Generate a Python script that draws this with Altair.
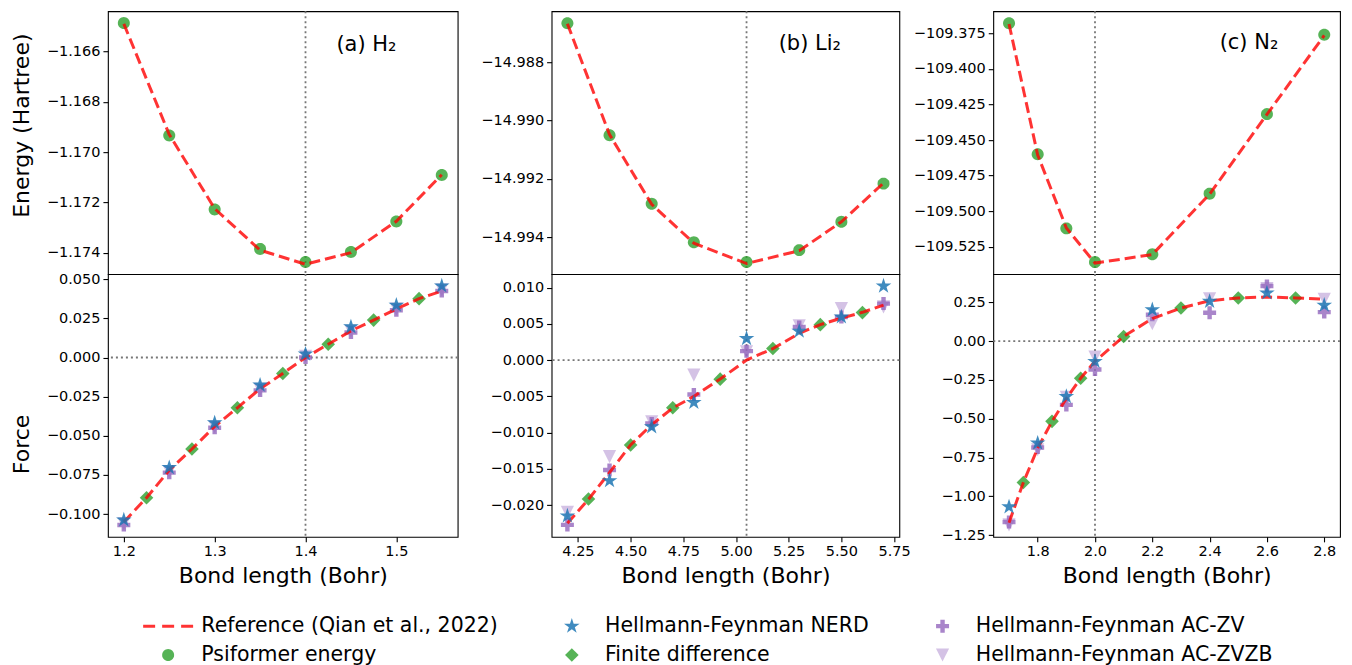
import altair as alt
import pandas as pd
import numpy as np

FONT = "DejaVu Sans"

# ---------------- data ----------------
# legend order (filled column by column, two rows)
SERIES = ["Reference (Qian et al., 2022)", "Psiformer energy", "Hellmann-Feynman NERD",
          "Finite difference", "Hellmann-Feynman AC-ZV", "Hellmann-Feynman AC-ZVZB"]

# (a) H2
a_x = [1.2, 1.25, 1.3, 1.35, 1.4, 1.45, 1.5, 1.55]
a_E_psi = [-1.16487, -1.16934, -1.17228, -1.17385, -1.17437, -1.17397, -1.17276, -1.17091]
a_E_ref = [-1.16490, -1.16930, -1.17225, -1.17390, -1.17446, -1.17400, -1.17275, -1.17090]
a_F_nerd = [-0.1037, -0.0703, -0.0417, -0.0176, 0.0022, 0.0196, 0.0334, 0.0457]
a_F_zv = [-0.1069, -0.0735, -0.0448, -0.0210, 0.0000, 0.0160, 0.0302, 0.0425]
a_F_zvzb = [-0.1060, -0.0728, -0.0442, -0.0203, 0.0008, 0.0168, 0.0310, 0.0432]
a_x_fd = [1.225, 1.275, 1.325, 1.375, 1.425, 1.475, 1.525]
a_F_fd = [-0.0895, -0.0584, -0.0321, -0.0102, 0.0085, 0.0239, 0.0376]
a_x_ref = [1.2, 1.225, 1.25, 1.275, 1.3, 1.325, 1.35, 1.375, 1.4, 1.425, 1.45, 1.475, 1.5, 1.525, 1.55]
a_F_ref = [-0.1050, -0.0895, -0.0720, -0.0584, -0.0440, -0.0321, -0.0200, -0.0102, 0.0000,
           0.0085, 0.0170, 0.0239, 0.0310, 0.0376, 0.0425]

# (b) Li2
b_x = [4.2, 4.4, 4.6, 4.8, 5.05, 5.3, 5.5, 5.7]
b_E_psi = [-14.98666, -14.99050, -14.99285, -14.99417, -14.99485, -14.99444, -14.99347, -14.99216]
b_E_ref = [-14.98668, -14.99048, -14.99287, -14.99420, -14.99490, -14.99446, -14.99347, -14.99214]
b_F_nerd = [-0.02149, -0.01663, -0.00919, -0.00584, 0.00298, 0.00399, 0.00596, 0.01023]
b_F_zv = [-0.02273, -0.01515, -0.00873, -0.00474, 0.00124, 0.00459, 0.00596, 0.00780]
b_F_zvzb = [-0.02100, -0.01332, -0.00850, -0.00207, 0.00114, 0.00472, 0.00710, 0.00734]
b_x_fd = [4.3, 4.5, 4.7, 4.925, 5.175, 5.4, 5.6]
b_F_fd = [-0.01915, -0.01171, -0.00657, -0.00262, 0.00160, 0.00490, 0.00656]
b_x_ref = [4.2, 4.3, 4.4, 4.5, 4.6, 4.7, 4.8, 4.925, 5.05, 5.175, 5.3, 5.4, 5.5, 5.6, 5.7]
b_F_ref = [-0.0225, -0.0192, -0.0155, -0.0117, -0.0089, -0.0066, -0.0050, -0.0026, 0.0000,
           0.0016, 0.0037, 0.0049, 0.0058, 0.0066, 0.0076]

# (c) N2
c_x = [1.7, 1.8, 1.9, 2.0, 2.2, 2.4, 2.6, 2.8]
c_E_psi = [-109.3679, -109.4600, -109.5121, -109.5358, -109.5303, -109.4877, -109.4318, -109.3760]
c_E_ref = [-109.3685, -109.4605, -109.5118, -109.5365, -109.5305, -109.4880, -109.4320, -109.3765]
c_F_nerd = [-1.068, -0.657, -0.357, -0.131, 0.202, 0.256, 0.310, 0.231]
c_F_zv = [-1.165, -0.685, -0.411, -0.183, 0.170, 0.183, 0.355, 0.187]
c_F_zvzb = [-1.184, -0.700, -0.362, -0.103, 0.112, 0.273, 0.338, 0.269]
c_x_fd = [1.75, 1.85, 1.95, 2.1, 2.3, 2.5, 2.7]
c_F_fd = [-0.911, -0.517, -0.239, 0.030, 0.213, 0.278, 0.278]
c_x_ref = [1.7, 1.75, 1.8, 1.85, 1.9, 1.95, 2.0, 2.1, 2.2, 2.3, 2.4, 2.5, 2.6, 2.7, 2.8]
c_F_ref = [-1.170, -0.911, -0.690, -0.517, -0.370, -0.239, -0.130, 0.030, 0.145, 0.213,
           0.260, 0.278, 0.284, 0.278, 0.270]

labels = ["(a) H\u2082", "(b) Li\u2082", "(c) N\u2082"]
eq_x = [1.4, 5.05, 2.0]

# ---------------- styles ----------------
COLOR_OF = {
    "Reference (Qian et al., 2022)": "rgba(255,0,0,0.8)",
    "Psiformer energy": "rgba(44,160,44,0.8)",
    "Hellmann-Feynman NERD": "rgba(31,119,180,0.85)",
    "Finite difference": "rgba(44,160,44,0.8)",
    "Hellmann-Feynman AC-ZV": "rgba(148,103,189,0.8)",
    "Hellmann-Feynman AC-ZVZB": "rgba(148,103,189,0.4)",
}


def _poly(pts):
    return "M" + "L".join(f"{px:.3f},{py:.3f}" for px, py in pts) + "Z"


_circ = _poly([(0.6 * np.cos(t), 0.6 * np.sin(t)) for t in np.linspace(0, 2 * np.pi, 32, endpoint=False)])
_star_pts = []
for i in range(10):
    r = 0.82 if i % 2 == 0 else 0.82 * 0.382
    ang = np.deg2rad(-90 + 36 * i)
    _star_pts.append((r * np.cos(ang), r * np.sin(ang)))
_star = _poly(_star_pts)
h, w = 0.65, 0.22
_plus = _poly([(-w, -h), (w, -h), (w, -w), (h, -w), (h, w), (w, w), (w, h), (-w, h), (-w, w),
               (-h, w), (-h, -w), (-w, -w)])
_diam = _poly([(0, -0.68), (0.68, 0), (0, 0.68), (-0.68, 0)])
_tri = _poly([(-0.66, -0.66), (0.66, -0.66), (0, 0.66)])
_dash = " ".join(_poly([(a, -0.15), (b, -0.15), (b, 0.15), (a, 0.15)])
                 for a, b in [(-2.5, -1.3), (-0.6, 0.6), (1.3, 2.5)])
SHAPE_OF = {
    "Reference (Qian et al., 2022)": _dash,
    "Psiformer energy": _circ,
    "Hellmann-Feynman NERD": _star,
    "Finite difference": _diam,
    "Hellmann-Feynman AC-ZV": _plus,
    "Hellmann-Feynman AC-ZVZB": _tri,
}

color_scale = alt.Scale(domain=SERIES, range=[COLOR_OF[s] for s in SERIES])
shape_scale = alt.Scale(domain=SERIES, range=[SHAPE_OF[s] for s in SERIES])
legend = alt.Legend(title=None, orient="none", legendX=50, legendY=605, columns=3,
                    symbolSize=400, symbolStrokeWidth=0, symbolOpacity=1,
                    labelFontSize=20.5, labelFont=FONT, labelColor="black", labelOffset=23,
                    labelLimit=0, rowPadding=8, columnPadding=63, padding=0)

REF_RED = "rgba(255,0,0,0.8)"
W = [350, 348, 347]
H = 263


def layer_points(xs, ys, name, xsc, ysc, xax, yax):
    d = pd.DataFrame({"x": xs, "y": ys, "series": name})
    return alt.Chart(d).mark_point(filled=True, size=400, opacity=1, strokeWidth=0).encode(
        x=alt.X("x:Q", scale=xsc, axis=xax),
        y=alt.Y("y:Q", scale=ysc, axis=yax),
        color=alt.Color("series:N", scale=color_scale, legend=legend),
        shape=alt.Shape("series:N", scale=shape_scale, legend=legend),
    )


def layer_line(xs, ys, xsc, ysc, xax, yax):
    d = pd.DataFrame({"x": xs, "y": ys})
    return alt.Chart(d).mark_line(color=REF_RED, strokeDash=[11, 5], strokeWidth=3).encode(
        x=alt.X("x:Q", scale=xsc, axis=xax), y=alt.Y("y:Q", scale=ysc, axis=yax))


def vrule(x0, xsc, xax):
    return alt.Chart(pd.DataFrame({"x": [x0]})).mark_rule(
        color="#777777", strokeDash=[2, 3], strokeWidth=1.8).encode(x=alt.X("x:Q", scale=xsc, axis=xax))


def hrule(ysc, yax):
    return alt.Chart(pd.DataFrame({"y": [0.0]})).mark_rule(
        color="#777777", strokeDash=[2, 3], strokeWidth=1.8).encode(y=alt.Y("y:Q", scale=ysc, axis=yax))


def column(i, x, E_psi, E_ref, F_nerd, F_zv, F_zvzb, x_fd, F_fd, x_ref, F_ref,
           xdom, Edom, Fdom, xticks, xfmt, Eticks, Efmt, Fticks, Ffmt, lab_xy):
    xsc = alt.Scale(domain=xdom, nice=False, zero=False)
    Esc = alt.Scale(domain=Edom, nice=False, zero=False)
    Fsc = alt.Scale(domain=Fdom, nice=False, zero=False)
    first = i == 0
    ax_top_y = alt.Axis(values=Eticks, format=Efmt, title="Energy (Hartree)" if first else None,
                        minExtent=64 if first else 30, maxExtent=64 if first else 120,
                        titlePadding=10, titleY=114)
    ax_bot_y = alt.Axis(values=Fticks, format=Ffmt, title="Force" if first else None,
                        minExtent=64 if first else 30, maxExtent=64 if first else 120,
                        titlePadding=10, titleY=170)
    ax_bot_x = alt.Axis(values=xticks, format=xfmt, title="Bond length (Bohr)", titlePadding=7)

    lab = pd.DataFrame({"x": [lab_xy[0]], "y": [lab_xy[1]], "t": [labels[i]]})
    top = alt.layer(
        vrule(eq_x[i], xsc, None),
        layer_points(x, E_psi, "Psiformer energy", xsc, Esc, None, ax_top_y),
        layer_line(x, E_ref, xsc, Esc, None, ax_top_y),
        alt.Chart(lab).mark_text(align="left", baseline="middle", fontSize=21, font=FONT,
                                 color="black").encode(
            x=alt.X("x:Q", scale=xsc, axis=None), y=alt.Y("y:Q", scale=Esc, axis=ax_top_y), text="t:N"),
    ).properties(width=W[i], height=H)

    bot = alt.layer(
        vrule(eq_x[i], xsc, ax_bot_x),
        hrule(Fsc, ax_bot_y),
        layer_points(x, F_zvzb, "Hellmann-Feynman AC-ZVZB", xsc, Fsc, ax_bot_x, ax_bot_y),
        layer_points(x, F_zv, "Hellmann-Feynman AC-ZV", xsc, Fsc, ax_bot_x, ax_bot_y),
        layer_points(x_fd, F_fd, "Finite difference", xsc, Fsc, ax_bot_x, ax_bot_y),
        layer_line(x_ref, F_ref, xsc, Fsc, ax_bot_x, ax_bot_y),
        layer_points(x, F_nerd, "Hellmann-Feynman NERD", xsc, Fsc, ax_bot_x, ax_bot_y),
    ).properties(width=W[i], height=H)
    return top, bot


tA, bA = column(0, a_x, a_E_psi, a_E_ref, a_F_nerd, a_F_zv, a_F_zvzb, a_x_fd, a_F_fd, a_x_ref, a_F_ref,
                [1.1825, 1.5675], [-1.17485, -1.16440], [-0.1145, 0.0533],
                [1.2, 1.3, 1.4, 1.5], ".1f",
                [-1.166, -1.168, -1.170, -1.172, -1.174], ".3f",
                [0.05, 0.025, 0.0, -0.025, -0.05, -0.075, -0.1], ".3f",
                (1.434, -1.16574))
tB, bB = column(1, b_x, b_E_psi, b_E_ref, b_F_nerd, b_F_zv, b_F_zvzb, b_x_fd, b_F_fd, b_x_ref, b_F_ref,
                [4.125, 5.775], [-14.99526, -14.98625], [-0.02438, 0.01188],
                [4.25, 4.5, 4.75, 5.0, 5.25, 5.5, 5.75], ".2f",
                [-14.988, -14.990, -14.992, -14.994], ".3f",
                [0.01, 0.005, 0.0, -0.005, -0.01, -0.015, -0.02], ".3f",
                (5.2024, -14.98739))
tC, bC = column(2, c_x, c_E_psi, c_E_ref, c_F_nerd, c_F_zv, c_F_zvzb, c_x_fd, c_F_fd, c_x_ref, c_F_ref,
                [1.645, 2.855], [-109.5442, -109.3595], [-1.261, 0.432],
                [1.8, 2.0, 2.2, 2.4, 2.6, 2.8], ".1f",
                [-109.375, -109.4, -109.425, -109.45, -109.475, -109.5, -109.525], ".3f",
                [0.25, 0.0, -0.25, -0.5, -0.75, -1.0, -1.25], ".2f",
                (2.435, -109.3819))

chart = alt.concat(tA, tB, tC, bA, bB, bC, columns=3,
                   spacing={"row": 0, "column": 94}, bounds="flush").properties(
    padding={"left": 2, "top": 1, "right": 2, "bottom": 0}
).configure_view(stroke="black", strokeWidth=1.1).configure_axis(
    labelFont=FONT, titleFont=FONT, labelFontSize=14.5, titleFontSize=22, titleFontWeight="normal",
    labelColor="black", titleColor="black", tickColor="black", tickSize=5, tickWidth=1.1,
    labelPadding=3, grid=False, domain=False,
)

chart.save("out.html", embed_options={"renderer": "svg", "actions": False})
